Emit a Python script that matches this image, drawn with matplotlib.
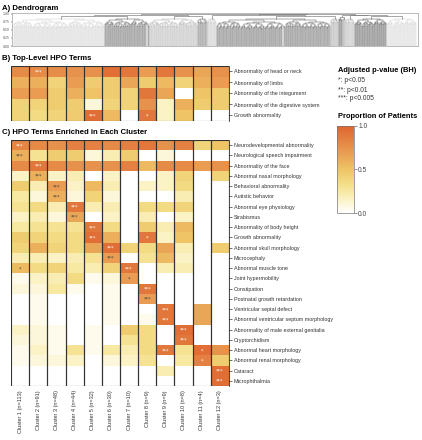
import matplotlib
matplotlib.use('Agg')
import matplotlib.pyplot as plt
import numpy as np
from matplotlib.colors import LinearSegmentedColormap
from matplotlib.patches import Rectangle

W, H = 422, 440

clusters = ['Cluster 1 (n=113)', 'Cluster 2 (n=91)', 'Cluster 3 (n=48)', 'Cluster 4 (n=44)',
            'Cluster 5 (n=32)', 'Cluster 6 (n=30)', 'Cluster 7 (n=10)', 'Cluster 8 (n=9)',
            'Cluster 9 (n=9)', 'Cluster 10 (n=8)', 'Cluster 11 (n=4)', 'Cluster 12 (n=3)']
cluster_sizes = [113, 91, 48, 44, 32, 30, 10, 9, 9, 8, 4, 3]

top_terms = ['Abnormality of head or neck', 'Abnormality of limbs', 'Abnormality of the integument',
             'Abnormality of the digestive system', 'Growth abnormality']
top_values = [
    [0.80, 0.80, 0.78, 0.75, 0.75, 0.95, 0.90, 0.70, 0.90, 0.75, 0.65, 0.75],
    [0.60, 0.60, 0.40, 0.70, 0.45, 0.45, 0.65, 0.45, 0.55, 0.40, 0.60, 0.70],
    [0.70, 0.70, 0.45, 0.60, 0.50, 0.45, 0.40, 0.90, 0.65, 0.00, 0.50, 0.45],
    [0.40, 0.40, 0.45, 0.45, 0.10, 0.40, 0.40, 0.75, 0.15, 0.60, 0.45, 0.45],
    [0.40, 0.35, 0.40, 0.45, 0.95, 0.55, 0.00, 0.90, 0.15, 0.50, 0.00, 0.00],
]
top_sig = [(0, 1, '***'), (4, 4, '***'), (4, 7, '*')]

enriched_terms = ['Neurodevelopmental abnormality', 'Neurological speech impairment',
                  'Abnormality of the face', 'Abnormal nasal morphology', 'Behavioral abnormality',
                  'Autistic behavior', 'Abnormal eye physiology', 'Strabismus',
                  'Abnormality of body height', 'Growth abnormality', 'Abnormal skull morphology',
                  'Microcephaly', 'Abnormal muscle tone', 'Joint hypermobility', 'Constipation',
                  'Postnatal growth retardation', 'Ventricular septal defect',
                  'Abnormal ventricular septum morphology', 'Abnormality of male external genitalia',
                  'Cryptorchidism', 'Abnormal heart morphology', 'Abnormal renal morphology',
                  'Cataract', 'Microphthalmia']
enriched_values = [
    [0.82, 0.80, 0.75, 0.85, 0.85, 0.80, 0.85, 0.90, 0.75, 0.85, 0.40, 0.50],
    [0.60, 0.30, 0.45, 0.45, 0.10, 0.20, 0.45, 0.00, 0.10, 0.00, 0.00, 0.00],
    [0.80, 0.90, 0.80, 0.75, 0.75, 0.75, 0.85, 0.55, 0.80, 0.80, 0.70, 0.75],
    [0.15, 0.60, 0.15, 0.20, 0.00, 0.15, 0.00, 0.00, 0.15, 0.40, 0.00, 0.40],
    [0.45, 0.20, 0.70, 0.15, 0.55, 0.20, 0.00, 0.15, 0.15, 0.35, 0.00, 0.00],
    [0.25, 0.10, 0.60, 0.10, 0.40, 0.10, 0.00, 0.00, 0.00, 0.20, 0.00, 0.00],
    [0.30, 0.35, 0.20, 0.90, 0.20, 0.20, 0.00, 0.35, 0.35, 0.40, 0.00, 0.00],
    [0.15, 0.20, 0.10, 0.65, 0.00, 0.15, 0.00, 0.20, 0.00, 0.15, 0.00, 0.00],
    [0.25, 0.30, 0.30, 0.30, 0.90, 0.35, 0.00, 0.45, 0.20, 0.55, 0.00, 0.00],
    [0.45, 0.40, 0.35, 0.35, 0.95, 0.60, 0.00, 0.90, 0.15, 0.50, 0.00, 0.00],
    [0.40, 0.60, 0.40, 0.35, 0.65, 0.95, 0.40, 0.35, 0.65, 0.20, 0.00, 0.45],
    [0.20, 0.20, 0.15, 0.20, 0.30, 0.70, 0.00, 0.30, 0.55, 0.15, 0.00, 0.00],
    [0.55, 0.35, 0.40, 0.25, 0.20, 0.40, 0.90, 0.00, 0.20, 0.20, 0.00, 0.00],
    [0.05, 0.15, 0.20, 0.35, 0.05, 0.10, 0.70, 0.00, 0.00, 0.00, 0.00, 0.00],
    [0.10, 0.10, 0.25, 0.05, 0.00, 0.05, 0.00, 0.90, 0.00, 0.00, 0.00, 0.00],
    [0.00, 0.05, 0.00, 0.00, 0.00, 0.05, 0.00, 0.70, 0.00, 0.00, 0.00, 0.00],
    [0.00, 0.05, 0.00, 0.00, 0.00, 0.05, 0.00, 0.00, 0.90, 0.00, 0.65, 0.00],
    [0.00, 0.05, 0.00, 0.00, 0.00, 0.05, 0.00, 0.05, 0.90, 0.00, 0.65, 0.00],
    [0.15, 0.10, 0.05, 0.00, 0.05, 0.00, 0.45, 0.35, 0.00, 0.95, 0.00, 0.00],
    [0.10, 0.10, 0.05, 0.00, 0.05, 0.00, 0.30, 0.35, 0.00, 0.90, 0.00, 0.00],
    [0.05, 0.15, 0.05, 0.30, 0.05, 0.25, 0.20, 0.35, 0.90, 0.30, 0.95, 0.75],
    [0.05, 0.10, 0.10, 0.15, 0.00, 0.10, 0.15, 0.30, 0.00, 0.25, 0.85, 0.45],
    [0.00, 0.00, 0.00, 0.00, 0.00, 0.00, 0.00, 0.00, 0.20, 0.00, 0.00, 0.95],
    [0.00, 0.00, 0.00, 0.00, 0.00, 0.00, 0.00, 0.00, 0.00, 0.00, 0.00, 0.95],
]
enriched_sig = [(0, 0, '***'), (1, 0, '***'), (2, 1, '***'), (3, 1, '***'), (4, 2, '***'),
                (5, 2, '***'), (6, 3, '***'), (7, 3, '***'), (8, 4, '***'), (9, 4, '***'),
                (9, 7, '*'), (10, 5, '***'), (11, 5, '***'), (12, 0, '*'), (12, 6, '***'),
                (13, 6, '*'), (14, 7, '***'), (15, 7, '***'), (16, 8, '***'), (17, 8, '***'),
                (18, 9, '***'), (19, 9, '***'), (20, 8, '***'), (20, 10, '*'), (21, 10, '*'),
                (22, 11, '***'), (23, 11, '***')]

# dendrogram: cluster order left->right, merges between cluster roots, inner levels
dend_order = [2, 4, 3, 7, 9, 1, 10, 11, 12, 8, 5, 6]
dend_grays = ['#cccccc', '#555555', '#aaaaaa', '#666666', '#bbbbbb', '#555555',
              '#999999', '#444444', '#888888', '#aaaaaa', '#444444', '#cfcfcf']
top_merges = [('A', 'C2', 'C4', 0.93), ('B', 'C3', 'C7', 0.92), ('C', 'A', 'B', 0.96),
              ('D', 'C1', 'C10', 0.93), ('E', 'C9', 'D', 0.95), ('F', 'C11', 'C12', 0.90),
              ('G', 'C5', 'C6', 0.93), ('H', 'C8', 'G', 0.95), ('I', 'F', 'H', 0.965),
              ('J', 'E', 'I', 0.98), ('K', 'C', 'J', 0.995)]
inner_levels = [0.88, 0.83, 0.79, 0.75, 0.71, 0.67, 0.63, 0.59, 0.55, 0.51, 0.47]
split_ratio = [0.45, 0.6, 0.35, 0.55, 0.5, 0.4, 0.65, 0.5, 0.45, 0.55, 0.5]

cmap = LinearSegmentedColormap.from_list('prop', [
    (0.0, '#ffffff'), (0.15, '#fbf3c6'), (0.32, '#f4e08a'), (0.5, '#eec466'),
    (0.7, '#e99c52'), (1.0, '#df6530')])

plt.rcParams['font.family'] = ['Liberation Sans', 'DejaVu Sans']


def px_axes(fig, x0, y0, x1, y1):
    return fig.add_axes([x0 / W, 1 - y1 / H, (x1 - x0) / W, (y1 - y0) / H])


fig = plt.figure(figsize=(W / 100, H / 100), dpi=100)

# ---- A) dendrogram
fig.text(2 / W, 1 - 8 / H, 'A) Dendrogram', fontsize=5.6, fontweight='bold', va='center')
axd = px_axes(fig, 12, 13, 418, 46)


def draw_inner(lo, hi, depth, color):
    if hi - lo == 1:
        return lo + 0.5, 0.0
    k = lo + max(1, min(hi - lo - 1, int(round((hi - lo) * split_ratio[depth % len(split_ratio)]))))
    xl, hl = draw_inner(lo, k, depth + 1, color)
    xr, hr = draw_inner(k, hi, depth + 1, color)
    h = inner_levels[min(depth, len(inner_levels) - 1)]
    axd.plot([xl, xl, xr, xr], [hl, h, h, hr], color=color, lw=0.35)
    return (xl + xr) / 2, h


nodes = {}
start = 0
for i, c in enumerate(dend_order):
    n = cluster_sizes[c - 1]
    x, h = draw_inner(start, start + n, 1, dend_grays[i])
    nodes['C%d' % c] = (x, h)
    start += n
for name, a, b, h in top_merges:
    xa, ha = nodes[a]
    xb, hb = nodes[b]
    axd.plot([xa, xa, xb, xb], [ha, h, h, hb], color='#777777', lw=0.45)
    nodes[name] = ((xa + xb) / 2, h)

axd.set_xlim(-1, sum(cluster_sizes) + 1)
axd.set_ylim(0, 1.02)
axd.set_xticks([])
axd.set_yticks([0, 0.25, 0.5, 0.75, 1.0])
axd.set_yticklabels(['0.00', '0.25', '0.50', '0.75', '1.00'], fontsize=2.5, color='#555555')
axd.tick_params(axis='y', length=1, width=0.3, pad=0.8)
for s in axd.spines.values():
    s.set_linewidth(0.4)
    s.set_color('#888888')


def heatmap(ax, values, terms, sig, xlabels):
    vals = np.array(values)
    nr, nc = vals.shape
    mesh = ax.pcolormesh(np.arange(nc + 1), np.arange(nr + 1), vals, cmap=cmap, vmin=0, vmax=1)
    for j in range(nc):
        ax.add_patch(Rectangle((j, 0), 1, nr, fill=False, ec='#333333', lw=0.8, zorder=3))
    for r, c, s in sig:
        col = 'white' if vals[r, c] > 0.78 else '#444444'
        ax.text(c + 0.5, r + 0.55, s, ha='center', va='center', fontsize=3.5, color=col,
                family='DejaVu Sans')
    ax.set_xlim(0, nc)
    ax.set_ylim(nr, 0)
    ax.yaxis.tick_right()
    ax.set_yticks(np.arange(nr) + 0.5)
    ax.set_yticklabels(terms, fontsize=3.9, color='#333333')
    ax.tick_params(axis='y', length=2, width=0.4, pad=1.5)
    if xlabels:
        ax.set_xticks(np.arange(nc) + 0.5)
        ax.set_xticklabels(xlabels, rotation=90, fontsize=4.0, color='#333333')
        ax.tick_params(axis='x', length=0, pad=3)
    else:
        ax.set_xticks([])
    for side in ['top', 'bottom', 'left']:
        ax.spines[side].set_visible(False)
    ax.spines['right'].set_linewidth(0.5)
    return mesh


# ---- B) top-level terms
fig.text(2 / W, 1 - 58 / H, 'B) Top-Level HPO Terms', fontsize=5.6, fontweight='bold', va='center')
axb = px_axes(fig, 11, 66, 229, 121)
mesh = heatmap(axb, top_values, top_terms, top_sig, None)

# ---- C) enriched terms
fig.text(2 / W, 1 - 133 / H, 'C) HPO Terms Enriched in Each Cluster', fontsize=5.6,
         fontweight='bold', va='center')
axc = px_axes(fig, 11, 140, 229, 386)
heatmap(axc, enriched_values, enriched_terms, enriched_sig, clusters)

# ---- legends
fig.text(338 / W, 1 - 70 / H, 'Adjusted p-value (BH)', fontsize=5.4, fontweight='bold', va='center')
for k, t in enumerate(['*: p<0.05', '**: p<0.01', '***: p<0.005']):
    fig.text(338 / W, 1 - (81 + 9 * k) / H, t, fontsize=4.8, va='center', color='#333333')
fig.text(338 / W, 1 - 117 / H, 'Proportion of Patients', fontsize=5.4, fontweight='bold', va='center')
cax = px_axes(fig, 337, 126, 354, 213)
cb = fig.colorbar(mesh, cax=cax)
cb.set_ticks([0, 0.5, 1.0])
cb.set_ticklabels(['0.0', '0.5', '1.0'])
cb.ax.tick_params(labelsize=4.8, length=2, width=0.4, pad=1, colors='#444444')
cb.outline.set_linewidth(0.5)
cb.outline.set_edgecolor('#777777')

fig.savefig('out.png', dpi=100)
